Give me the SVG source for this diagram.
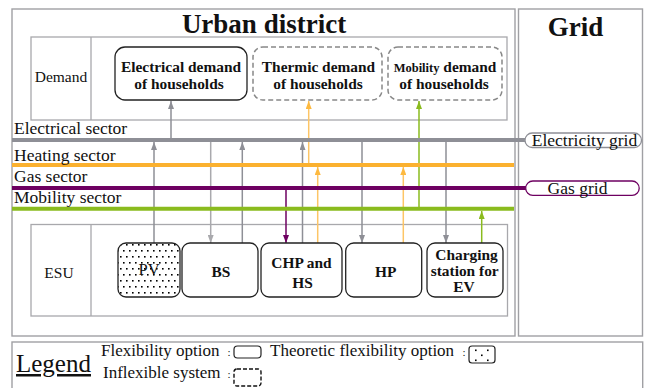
<svg xmlns="http://www.w3.org/2000/svg" width="657" height="388" viewBox="0 0 657 388">
<style>
text{font-family:"Liberation Serif","Times New Roman",serif;fill:#111}
.frame{fill:#fff;stroke:#a0a0a4;stroke-width:1.4}
.inner{fill:none;stroke:#a8a8ac;stroke-width:1.3}
.title{font-size:27px;font-weight:bold;text-anchor:middle}
.lbl{font-size:15.5px;text-anchor:middle}
.bt{font-size:15.4px;font-weight:bold;text-anchor:middle}
.sec{font-size:17.5px}
.flex{fill:#fff;stroke:#222;stroke-width:1.3}
.infl{fill:#fff;stroke:#888;stroke-width:1.5;stroke-dasharray:5 3}
.cg{stroke:#8e8f96;stroke-width:1.5;fill:none}
.cgl{stroke:#a9a9ad;stroke-width:1.5;fill:none}
.co{stroke:#fdc566;stroke-width:1.5;fill:none}
.cp{stroke:#6e0061;stroke-width:1.5;fill:none}
.cgr{stroke:#8abb1e;stroke-width:1.5;fill:none}
.leg{font-size:17px}
.colon{font-size:11px}
</style>
<defs>
<pattern id="dots" width="6" height="12" patternUnits="userSpaceOnUse" x="119" y="243">
<rect x="1" y="1" width="1.6" height="1.6" fill="#000"/>
<rect x="4" y="7" width="1.6" height="1.6" fill="#000"/>
</pattern>
<marker id="ag" markerWidth="8" markerHeight="6" refX="8" refY="3" orient="auto" markerUnits="userSpaceOnUse"><path d="M0,0 L8,3 L0,6 z" fill="#8e8f96"/></marker>
<marker id="agl" markerWidth="8" markerHeight="6" refX="8" refY="3" orient="auto" markerUnits="userSpaceOnUse"><path d="M0,0 L8,3 L0,6 z" fill="#a9a9ad"/></marker>
<marker id="ao" markerWidth="8" markerHeight="6" refX="8" refY="3" orient="auto" markerUnits="userSpaceOnUse"><path d="M0,0 L8,3 L0,6 z" fill="#fdb93f"/></marker>
<marker id="ap" markerWidth="8" markerHeight="6" refX="8" refY="3" orient="auto" markerUnits="userSpaceOnUse"><path d="M0,0 L8,3 L0,6 z" fill="#6e0061"/></marker>
<marker id="agr" markerWidth="8" markerHeight="6" refX="8" refY="3" orient="auto" markerUnits="userSpaceOnUse"><path d="M0,0 L8,3 L0,6 z" fill="#8abb1e"/></marker>
</defs>
<rect width="657" height="388" fill="#fff"/>

<g id="urban-district">
<rect class="frame" x="12" y="9" width="503" height="327"/>
<text class="title" x="264" y="33">Urban district</text>
</g>
<g id="grid">
<rect class="frame" x="518.5" y="9" width="124" height="327"/>
<text class="title" x="575.5" y="35.5">Grid</text>
</g>

<g id="demand-area">
<rect class="inner" x="31" y="37" width="476" height="83"/>
<line class="inner" x1="91" y1="37" x2="91" y2="120"/>
<text class="lbl" x="61" y="82">Demand</text>
</g>
<g id="esu-area">
<rect class="inner" x="31" y="224.5" width="476.5" height="91.5"/>
<line class="inner" x1="91" y1="224.5" x2="91" y2="316"/>
<text class="lbl" x="59" y="278">ESU</text>
</g>

<g id="electrical-demand">
<rect class="flex" x="115" y="47" width="132" height="53" rx="10"/>
<text class="bt" x="181" y="72">Electrical demand</text>
<text class="bt" x="179" y="88.5">of households</text>
</g>
<g id="thermic-demand">
<rect class="infl" x="253" y="47" width="129" height="53" rx="10"/>
<text class="bt" x="318.5" y="72">Thermic demand</text>
<text class="bt" x="318" y="88.5">of households</text>
</g>
<g id="mobility-demand">
<rect class="infl" x="388" y="47" width="114" height="53" rx="10"/>
<text class="bt" x="445" y="72"><tspan font-size="12.5px">Mobility</tspan> demand</text>
<text class="bt" x="444" y="88.5">of households</text>
</g>

<g id="connectors">
<line class="cg" x1="171" y1="139" x2="171" y2="101" marker-end="url(#ag)"/>
<line class="cg" x1="154" y1="243" x2="154" y2="142" marker-end="url(#ag)"/>
<line class="cgl" x1="210.7" y1="142" x2="210.7" y2="243" marker-end="url(#agl)"/>
<line class="cg" x1="242.3" y1="243" x2="242.3" y2="142" marker-end="url(#ag)"/>
<line class="cp" x1="286" y1="190" x2="286" y2="243" marker-end="url(#ap)"/>
<line class="cg" x1="302.5" y1="243" x2="302.5" y2="142" marker-end="url(#ag)"/>
<line class="co" x1="308.7" y1="164" x2="308.7" y2="101" marker-end="url(#ao)"/>
<line class="co" x1="317.7" y1="243" x2="317.7" y2="167" marker-end="url(#ao)"/>
<line class="cg" x1="362" y1="142" x2="362" y2="243" marker-end="url(#ag)"/>
<line class="co" x1="403.3" y1="243" x2="403.3" y2="167" marker-end="url(#ao)"/>
<line class="cgr" x1="419" y1="208" x2="419" y2="101" marker-end="url(#agr)"/>
<line class="cg" x1="446" y1="142" x2="446" y2="243" marker-end="url(#ag)"/>
<line class="cgr" x1="481.7" y1="243" x2="481.7" y2="211" marker-end="url(#agr)"/>
</g>

<g id="electrical-sector">
<line x1="12" y1="140" x2="526" y2="140" stroke="#8e8f96" stroke-width="4"/>
<text class="sec" x="14" y="134">Electrical sector</text>
</g>
<g id="heating-sector">
<line x1="12" y1="165" x2="514" y2="165" stroke="#fbb12f" stroke-width="4"/>
<text class="sec" x="14" y="161">Heating sector</text>
</g>
<g id="gas-sector">
<line x1="12" y1="188" x2="526" y2="188" stroke="#6e0061" stroke-width="4"/>
<text class="sec" x="14" y="182">Gas sector</text>
</g>
<g id="mobility-sector">
<line x1="12" y1="208.7" x2="514" y2="208.7" stroke="#8abb1e" stroke-width="4"/>
<text class="sec" x="14" y="203">Mobility sector</text>
</g>

<g id="electricity-grid">
<rect x="525" y="133" width="116.5" height="14.5" rx="7.25" fill="#fff" stroke="#8e8f96" stroke-width="1.3"/>
<text class="sec" x="584.5" y="145.5" text-anchor="middle">Electricity grid</text>
</g>
<g id="gas-grid">
<rect x="525.7" y="181" width="113.5" height="14.3" rx="7.15" fill="#fff" stroke="#6e0061" stroke-width="1.3"/>
<text class="sec" x="577.5" y="193.5" text-anchor="middle">Gas grid</text>
</g>

<g id="pv">
<rect x="118" y="243" width="62" height="54" rx="8" fill="url(#dots)" stroke="#222" stroke-width="1.3"/>
<text x="149" y="275" font-size="16.5px" text-anchor="middle">PV</text>
</g>
<g id="bs">
<rect class="flex" x="182" y="243" width="76" height="54" rx="8"/>
<text class="bt" x="221" y="276.5">BS</text>
</g>
<g id="chp-hs">
<rect class="flex" x="261" y="243" width="81" height="54" rx="8"/>
<text class="bt" x="301.5" y="268">CHP and</text>
<text class="bt" x="302.5" y="288">HS</text>
</g>
<g id="hp">
<rect class="flex" x="345.7" y="243" width="76" height="54" rx="8"/>
<text class="bt" x="385.7" y="276.5">HP</text>
</g>
<g id="charging-station">
<rect class="flex" x="427" y="243" width="76" height="54" rx="8"/>
<text class="bt" x="466.5" y="260">Charging</text>
<text class="bt" x="464.7" y="276">station for</text>
<text class="bt" x="464" y="292">EV</text>
</g>

<g id="legend">
<rect class="frame" x="12" y="342" width="630.7" height="50"/>
<text x="16" y="372" font-size="25px" text-decoration="underline">Legend</text>
<text class="leg" x="101" y="356">Flexibility option</text>
<text class="colon" x="227.5" y="356">:</text>
<rect x="234" y="346" width="27" height="12" rx="3.5" fill="#fff" stroke="#222" stroke-width="1.2"/>
<text class="leg" x="270" y="356">Theoretic flexibility option</text>
<text class="colon" x="462.5" y="356">:</text>
<rect x="469" y="346" width="26" height="17" rx="3" fill="#fff" stroke="#222" stroke-width="1.2"/>
<rect x="475" y="349.5" width="1.6" height="1.6" fill="#000"/>
<rect x="487" y="349.5" width="1.6" height="1.6" fill="#000"/>
<rect x="481" y="354.5" width="1.6" height="1.6" fill="#000"/>
<rect x="475" y="359.5" width="1.6" height="1.6" fill="#000"/>
<rect x="487" y="359.5" width="1.6" height="1.6" fill="#000"/>
<text class="leg" x="103" y="378">Inflexible system</text>
<text class="colon" x="227.5" y="378">:</text>
<rect x="234" y="369" width="27" height="17" rx="3" fill="#fff" stroke="#111" stroke-width="1.4" stroke-dasharray="4 2"/>
</g>
</svg>
